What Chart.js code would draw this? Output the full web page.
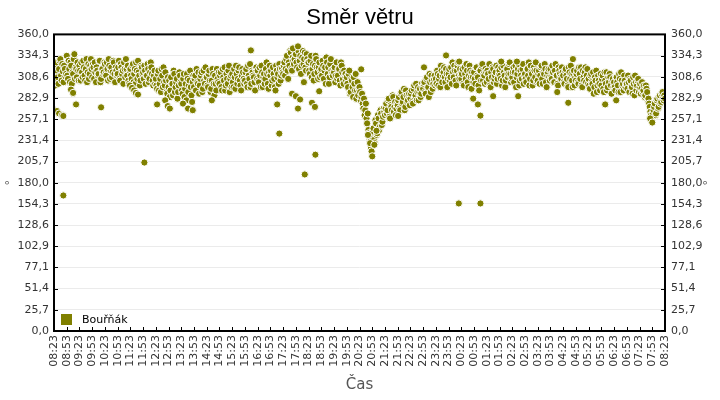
<!DOCTYPE html>
<html>
<head>
<meta charset="utf-8">
<script src="https://cdn.jsdelivr.net/npm/chart.js@4.4.1/dist/chart.umd.min.js"></script>
<style>
  html, body { margin: 0; padding: 0; background: #fff; }
  #wrap { width: 720px; height: 400px; }
</style>
</head>
<body>
<div id="wrap"><canvas id="chart" width="720" height="400"></canvas></div>
<script>
const seriesName = "Bouřňák";

// x tick labels, one every 30 minutes starting 08:23
const timeLabels = [
  "08:23", "08:53", "09:23", "09:53", "10:23", "10:53", "11:23", "11:53",
  "12:23", "12:53", "13:23", "13:53", "14:23", "14:53", "15:23", "15:53",
  "16:23", "16:53", "17:23", "17:53", "18:23", "18:53", "19:23", "19:53",
  "20:23", "20:53", "21:23", "21:53", "22:23", "22:53", "23:23", "23:53",
  "00:23", "00:53", "01:23", "01:53", "02:23", "02:53", "03:23", "03:53",
  "04:23", "04:53", "05:23", "05:53", "06:23", "06:53", "07:23", "07:53",
  "08:23",
];

const yTickValues = [0, 25.714, 51.429, 77.143, 102.857, 128.571, 154.286, 180,
  205.714, 231.429, 257.143, 282.857, 308.571, 334.286, 360];
const yTickLabels = ["0,0", "25,7", "51,4", "77,1", "102,9", "128,6", "154,3", "180,0",
  "205,7", "231,4", "257,1", "282,9", "308,6", "334,3", "360,0"];

// wind direction (°), one reading every 3 minutes from 08:23 (10 per half hour)
const sampleStep = 3;
const directionValues = [
  312, 298, 326, 308, 318, 330, 304, 315, 322, 309,
  334, 306, 318, 326, 300, 312, 336, 320, 308, 316,
  322, 304, 314, 328, 310, 318, 302, 324, 312, 330,
  308, 320, 326, 302, 316, 312, 328, 306, 318, 314,
  324, 310, 318, 330, 306, 320, 314, 326, 302, 316,
  312, 328, 304, 320, 316, 326, 308, 318, 322, 300,
  318, 306, 324, 312, 300, 316, 328, 310, 304, 320,
  314, 322, 300, 310, 318, 306, 326, 312, 298, 316,
  306, 294, 316, 300, 290, 310, 320, 298, 304, 288,
  296, 284, 308, 300, 316, 290, 302, 282, 298, 310,
  300, 288, 312, 294, 280, 306, 298, 316, 286, 302,
  296, 310, 318, 300, 288, 306, 314, 294, 304, 320,
  308, 296, 316, 290, 304, 312, 286, 300, 318, 302,
  300, 314, 292, 308, 320, 298, 306, 316, 290, 310,
  312, 296, 308, 322, 300, 316, 304, 292, 318, 306,
  304, 318, 296, 310, 324, 300, 314, 308, 292, 320,
  316, 302, 310, 322, 296, 312, 306, 326, 300, 314,
  310, 298, 320, 306, 292, 316, 312, 324, 304, 318,
  312, 326, 318, 334, 306, 322, 338, 316, 328, 330,
  336, 320, 340, 328, 312, 332, 324, 338, 316, 330,
  326, 312, 334, 318, 304, 322, 330, 314, 320, 308,
  318, 328, 306, 320, 332, 312, 300, 324, 316, 310,
  314, 302, 326, 310, 318, 298, 322, 306, 316, 312,
  308, 296, 316, 290, 304, 284, 300, 312, 292, 286,
  296, 280, 288, 270, 262, 276, 252, 244, 232, 222,
  236, 246, 228, 252, 240, 258, 248, 264, 254, 270,
  262, 276, 268, 282, 258, 272, 286, 266, 278, 270,
  274, 284, 268, 290, 278, 294, 272, 286, 280, 288,
  282, 292, 276, 298, 286, 280, 296, 290, 284, 300,
  294, 302, 288, 308, 296, 312, 290, 304, 300, 310,
  306, 316, 298, 310, 322, 302, 314, 308, 318, 296,
  312, 304, 320, 326, 308, 316, 298, 322, 310, 318,
  306, 318, 298, 312, 324, 302, 310, 316, 294, 308,
  314, 300, 320, 308, 292, 316, 322, 304, 310, 318,
  302, 312, 324, 296, 308, 318, 306, 314, 300, 320,
  316, 306, 298, 322, 310, 304, 318, 312, 326, 302,
  308, 320, 314, 296, 312, 324, 304, 310, 318, 300,
  312, 302, 318, 326, 306, 314, 298, 320, 308, 316,
  304, 316, 310, 322, 300, 312, 318, 296, 314, 308,
  318, 306, 314, 302, 324, 310, 298, 316, 308, 320,
  310, 300, 318, 306, 296, 314, 322, 304, 312, 298,
  304, 316, 300, 312, 320, 296, 308, 314, 302, 318,
  306, 294, 312, 300, 288, 308, 316, 298, 304, 292,
  298, 310, 290, 304, 314, 296, 302, 308, 288, 306,
  302, 292, 308, 298, 312, 290, 304, 300, 310, 296,
  300, 310, 290, 304, 296, 308, 286, 302, 298, 306,
  296, 288, 302, 292, 284, 298, 290, 282, 272, 262,
  258, 268, 276, 264, 282, 272, 286, 278, 290, 280,
  282,
];

// the readings in between, 1.5 minutes after each of the above
const directionValuesB = [
  320, 306, 316, 300, 328, 310, 324, 302, 318, 312,
  310, 328, 302, 322, 314, 330, 306, 318, 326, 304,
  316, 326, 308, 320, 304, 330, 314, 306, 322, 318,
  324, 306, 314, 320, 310, 328, 302, 318, 312, 326,
  312, 326, 304, 322, 316, 308, 328, 312, 320, 310,
  320, 306, 324, 312, 300, 318, 330, 310, 304, 316,
  310, 322, 302, 318, 326, 306, 314, 298, 322, 312,
  306, 316, 310, 324, 302, 314, 320, 304, 310, 300,
  298, 312, 292, 306, 318, 296, 302, 314, 290, 308,
  304, 292, 300, 286, 312, 296, 306, 290, 314, 302,
  292, 306, 284, 300, 312, 290, 304, 296, 278, 310,
  306, 292, 302, 314, 298, 310, 290, 316, 300, 308,
  298, 312, 304, 294, 318, 300, 310, 292, 306, 314,
  310, 296, 318, 304, 292, 312, 300, 322, 306, 296,
  302, 318, 294, 312, 306, 320, 298, 310, 314, 300,
  314, 300, 322, 306, 296, 316, 310, 302, 318, 306,
  304, 320, 296, 314, 308, 300, 318, 312, 294, 322,
  316, 304, 312, 296, 322, 308, 300, 318, 310, 314,
  322, 310, 330, 316, 326, 340, 318, 332, 324, 336,
  326, 342, 318, 334, 322, 340, 330, 320, 336, 326,
  316, 328, 308, 324, 312, 334, 320, 306, 326, 316,
  310, 322, 316, 300, 326, 320, 308, 330, 312, 318,
  320, 310, 306, 318, 304, 326, 314, 300, 310, 304,
  300, 312, 288, 306, 296, 308, 292, 282, 302, 294,
  290, 284, 276, 282, 268, 258, 264, 240, 230, 218,
  242, 232, 256, 238, 262, 244, 268, 250, 260, 266,
  270, 264, 280, 260, 274, 268, 284, 272, 262, 276,
  280, 270, 288, 276, 284, 268, 292, 278, 286, 274,
  288, 278, 294, 284, 300, 290, 280, 294, 288, 296,
  300, 290, 306, 296, 284, 302, 310, 294, 306, 298,
  300, 312, 306, 296, 316, 310, 320, 302, 312, 306,
  318, 308, 300, 314, 322, 304, 316, 326, 306, 312,
  312, 300, 320, 306, 316, 296, 322, 308, 314, 302,
  306, 320, 310, 298, 316, 304, 324, 312, 300, 314,
  316, 306, 298, 314, 320, 302, 310, 322, 306, 312,
  310, 320, 304, 314, 296, 318, 308, 324, 312, 306,
  314, 302, 322, 308, 318, 298, 316, 306, 324, 310,
  306, 318, 310, 298, 322, 312, 304, 316, 326, 302,
  312, 300, 320, 306, 314, 324, 302, 310, 318, 304,
  308, 322, 302, 316, 310, 300, 320, 312, 306, 314,
  302, 316, 310, 298, 320, 306, 312, 296, 316, 308,
  312, 302, 320, 306, 298, 316, 304, 320, 310, 300,
  298, 310, 302, 314, 296, 304, 290, 310, 300, 312,
  306, 294, 314, 300, 292, 308, 312, 298, 304, 296,
  296, 308, 302, 290, 306, 314, 298, 292, 304, 300,
  294, 302, 306, 296, 288, 300, 310, 292, 304, 290,
  300, 294, 290, 298, 286, 294, 280, 276, 266, 256,
  264, 272, 262, 280, 270, 284, 276, 288, 282, 286,
];

// odd readings off the main band (minutes after 08:23, degrees)
const extraMinutes = [0, 7, 12, 19, 22, 22, 40, 45, 52, 111, 179, 184, 189, 193, 198, 213,
  243, 262, 268, 273, 304, 316, 327, 372, 464, 526, 531, 561, 563, 570, 575, 575, 580, 589,
  591, 608, 615, 616, 625, 724, 740, 745, 750, 755, 760, 811, 872, 924, 954, 955, 988, 999,
  1005, 1005, 1035, 1054, 1091, 1094, 1186, 1212, 1223, 1299, 1325, 1405, 1410];
const extraValues = [268, 267, 264, 262, 261, 164.5, 293, 289, 275, 271.5, 298, 295, 292, 289, 287, 204.5,
  275, 280, 273, 270, 276, 270, 268, 280, 340.6, 275, 239.6, 288, 343, 285, 345.5, 270, 281, 302,
  190, 277, 272, 214, 291, 317.6, 238, 228, 212, 226, 243, 261, 320, 334.5, 154.8, 327, 282, 275,
  154.8, 261.4, 285, 327, 327, 285, 290, 277, 330, 275, 280, 258, 253];

const OLIVE = "#808000";
const FONT = "'DejaVu Sans', sans-serif";

const points = directionValues.map((v, i) => ({ x: i * sampleStep, y: v }))
  .concat(directionValuesB.map((v, i) => ({ x: i * sampleStep + sampleStep / 2, y: v })))
  .sort((p, q) => p.x - q.x)
  .concat(extraMinutes.map((m, i) => ({ x: m, y: extraValues[i] })));

const decor = {
  id: "decor",
  afterDraw(chart) {
    const { ctx, chartArea: a } = chart;
    ctx.save();
    ctx.strokeStyle = "#000";
    ctx.lineWidth = 1;
    // inward tick marks
    ctx.beginPath();
    chart.scales.x.ticks.forEach((t) => {
      const px = Math.round(chart.scales.x.getPixelForValue(t.value)) + 0.5;
      ctx.moveTo(px, a.bottom);
      ctx.lineTo(px, a.bottom - 4);
    });
    chart.scales.y.ticks.forEach((t) => {
      const py = Math.round(chart.scales.y.getPixelForValue(t.value)) + 0.5;
      ctx.moveTo(a.left, py);
      ctx.lineTo(a.left + 4, py);
      ctx.moveTo(a.right, py);
      ctx.lineTo(a.right - 4, py);
    });
    ctx.stroke();
    ctx.lineWidth = 2;
    ctx.strokeRect(a.left, a.top, a.right - a.left, a.bottom - a.top);
    // legend inside the plot
    const ds = chart.data.datasets[0];
    ctx.fillStyle = ds.backgroundColor;
    ctx.fillRect(a.left + 7, a.bottom - 17, 11, 11);
    ctx.fillStyle = "#000";
    ctx.font = "11px " + FONT;
    ctx.textBaseline = "middle";
    ctx.fillText(ds.label, a.left + 28, a.bottom - 11);
    ctx.restore();
  },
};

new Chart(document.getElementById("chart"), {
  type: "scatter",
  data: {
    datasets: [
      {
        label: seriesName,
        data: points,
        backgroundColor: OLIVE,
        borderColor: "#fff",
        borderWidth: 1,
        pointRadius: 3.6,
      },
    ],
  },
  options: {
    responsive: false,
    animation: false,
    layout: { padding: 0 },
    plugins: {
      legend: { display: false },
      tooltip: { enabled: false },
      title: {
        display: true,
        text: "Směr větru",
        color: "#000",
        font: { family: "'Liberation Sans', Arial, sans-serif", size: 22, weight: "normal", lineHeight: 1.2 },
        padding: { top: 5, bottom: 3 },
      },
    },
    scales: {
      x: {
        type: "linear",
        min: 0,
        max: 1440,
        afterFit: (s) => { s.height = 69; },
        afterBuildTicks: (s) => { s.ticks = timeLabels.map((_, i) => ({ value: i * 30 })); },
        grid: { display: false, drawTicks: false },
        border: { display: false },
        ticks: {
          autoSkip: false,
          maxRotation: 90,
          minRotation: 90,
          padding: 4,
          color: "#333",
          font: { family: FONT, size: 11 },
          callback: (v, i) => timeLabels[i],
        },
        title: {
          display: true,
          text: "Čas",
          color: "#555",
          font: { family: FONT, size: 15 },
          padding: { top: 0, bottom: 6 },
        },
      },
      y: {
        position: "left",
        min: 0,
        max: 360,
        afterFit: (s) => { s.width = 54; },
        afterBuildTicks: (s) => { s.ticks = yTickValues.map((v) => ({ value: v })); },
        grid: { color: "#ebebeb", drawTicks: false },
        border: { display: false },
        ticks: {
          padding: 5,
          color: "#333",
          font: { family: FONT, size: 11 },
          callback: (v, i) => yTickLabels[i],
        },
        title: {
          display: true,
          text: "°",
          color: "#555",
          font: { family: FONT, size: 11 },
          padding: { top: 4, bottom: 0 },
        },
      },
      y2: {
        position: "right",
        min: 0,
        max: 360,
        afterFit: (s) => { s.width = 55; },
        afterBuildTicks: (s) => { s.ticks = yTickValues.map((v) => ({ value: v })); },
        grid: { display: false, drawTicks: false },
        border: { display: false },
        ticks: {
          padding: 6,
          color: "#333",
          font: { family: FONT, size: 11 },
          callback: (v, i) => yTickLabels[i],
        },
        title: {
          display: true,
          text: "°",
          color: "#555",
          font: { family: FONT, size: 11 },
          padding: { top: 12, bottom: 12 },
        },
      },
    },
  },
  plugins: [decor],
});
</script>
</body>
</html>
